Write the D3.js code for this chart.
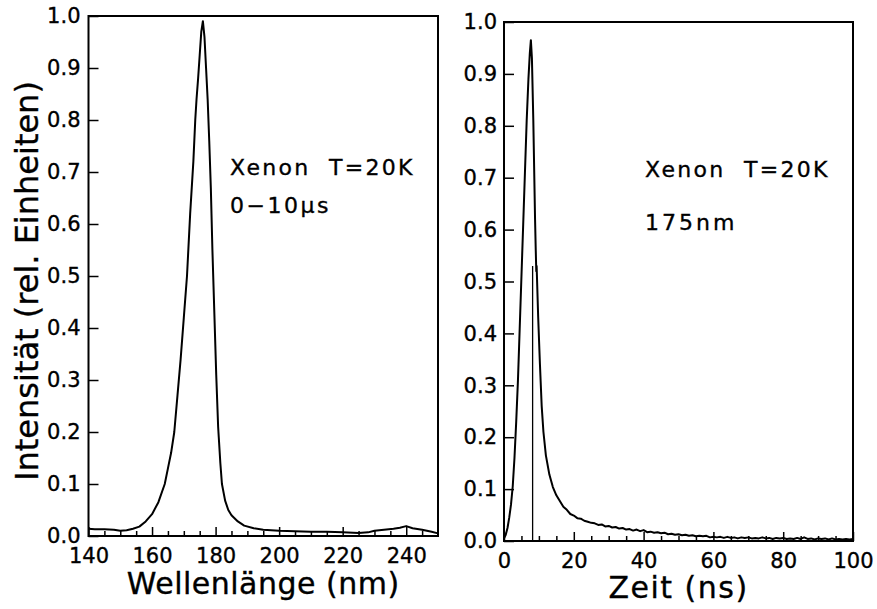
<!DOCTYPE html>
<html>
<head>
<meta charset="utf-8">
<script src="https://cdn.jsdelivr.net/npm/d3@7"></script>
<style>
  html, body { margin: 0; padding: 0; background: #fff; }
  svg { display: block; }
  text { font-family: "DejaVu Sans", "Liberation Sans", sans-serif; fill: #000; stroke: #000; stroke-width: 0.35px; }
</style>
</head>
<body>
<svg id="chart" width="877" height="609"></svg>
<script>
// Emission spectrum of solid xenon at 20 K (integrated 0–10 µs)
const wavelengthNm = [140,142,145,148,150,152,154,156,158,160,162,164,165,166,167,168,169,170,171,172,173,173.6,174,174.5,175,175.5,176,176.5,177,177.5,178,178.5,179,179.6,180.2,180.8,181,181.5,182,183,184,185,187,189,192,195,200,205,210,215,220,225,228,230,233,236,238,240,242,245,248,250];
const spectrumIntensity = [0.014,0.013,0.013,0.012,0.010,0.011,0.014,0.018,0.028,0.042,0.065,0.100,0.130,0.160,0.200,0.270,0.340,0.420,0.500,0.620,0.720,0.800,0.840,0.880,0.925,0.970,0.990,0.960,0.900,0.840,0.760,0.670,0.550,0.430,0.310,0.210,0.190,0.140,0.100,0.068,0.050,0.040,0.028,0.020,0.015,0.012,0.010,0.009,0.008,0.008,0.007,0.006,0.007,0.010,0.012,0.014,0.016,0.019,0.015,0.012,0.008,0.005];

// Time profile of the 175 nm emission
const timeNs = [0,0.5,1,1.5,2,2.5,3,3.5,4,4.5,5,5.5,6,6.5,7,7.4,7.7,8.0,8.4,8.9,9.1,9.25,9.35,9.8,10.3,10.8,11.3,12,
  13,14,15,16,17,18,19,20,21,22,23,24,25,26,27,28,29,30,31,32,33,34,35,36,37,38,39,40,
  41,42,43,44,45,46,47,48,49,50,51,52,53,54,55,56,57,58,59,60,61,62,63,64,65,66,67,68,69,70,
  71,72,73,74,75,76,77,78,79,80,81,82,83,84,85,86,87,88,89,90,91,92,93,94,95,96,97,98,99,100];
const decayIntensity = [0.005,0.012,0.025,0.045,0.070,0.105,0.160,0.230,0.310,0.410,0.510,0.610,0.710,0.810,0.890,0.940,0.965,0.930,0.810,0.620,0.560,0.520,0.530,0.430,0.340,0.260,0.210,0.165,
  0.128,0.104,0.088,0.077,0.066,0.060,0.052,0.049,0.044,0.043,0.039,0.037,0.035,0.034,0.031,0.032,0.028,0.029,0.026,0.027,0.024,0.025,0.022,0.023,0.020,0.022,0.019,0.021,
  0.017,0.018,0.016,0.017,0.015,0.016,0.013,0.014,0.012,0.013,0.011,0.012,0.010,0.011,0.009,0.010,0.009,0.010,0.007,0.008,0.007,0.008,0.006,0.008,0.006,0.007,0.005,0.007,0.006,0.007,
  0.005,0.006,0.005,0.007,0.005,0.006,0.004,0.006,0.005,0.006,0.004,0.005,0.004,0.006,0.004,0.007,0.004,0.005,0.003,0.005,0.004,0.005,0.003,0.005,0.003,0.004,0.003,0.004,0.003,0.004];
const markerTime = 8.2;
const markerLevel = 0.53;

// Axis ticks
const yTicks = [0,0.1,0.2,0.3,0.4,0.5,0.6,0.7,0.8,0.9,1.0];
const wlMajor = [140,160,180,200,220,240];
const wlMinor = d3.range(145, 250, 5).filter(v => !wlMajor.includes(v));
const tMajor = [0,20,40,60,80,100];
const tMinor = d3.range(5, 100, 5).filter(v => !tMajor.includes(v));

const svg = d3.select("#chart");

function panel(opts) {
  const x = d3.scaleLinear().domain(opts.xDomain).range(opts.xRange);
  const y = d3.scaleLinear().domain([0, 1]).range(opts.yRange);
  const g = svg.append("g");

  // minor x ticks
  g.append("g")
    .attr("transform", `translate(0,${opts.yRange[0]})`)
    .call(d3.axisBottom(x).tickValues(opts.minor).tickSize(-5).tickFormat(""))
    .call(a => a.select(".domain").remove())
    .call(a => a.selectAll("line").attr("stroke-width", 1.5));

  // major x ticks + labels
  g.append("g")
    .attr("transform", `translate(0,${opts.yRange[0]})`)
    .call(d3.axisBottom(x).tickValues(opts.major).tickSize(-9).tickPadding(opts.xLabelPad).tickFormat(d3.format("d")))
    .call(a => a.select(".domain").remove())
    .call(a => a.selectAll("line").attr("stroke-width", 1.5))
    .call(a => a.selectAll("text").attr("font-size", 21).attr("font-family", "DejaVu Sans").attr("fill", "#000"));

  // y ticks + labels
  g.append("g")
    .attr("transform", `translate(${opts.xRange[0]},0)`)
    .call(d3.axisLeft(y).tickValues(yTicks).tickSize(-10).tickPadding(opts.yLabelPad).tickFormat(d3.format(".1f")))
    .call(a => a.select(".domain").remove())
    .call(a => a.selectAll("line").attr("stroke-width", 1.5))
    .call(a => a.selectAll("text").attr("font-size", 21).attr("font-family", "DejaVu Sans").attr("fill", "#000"));

  // frame
  g.append("rect")
    .attr("x", opts.xRange[0]).attr("y", opts.yRange[1])
    .attr("width", opts.xRange[1] - opts.xRange[0])
    .attr("height", opts.yRange[0] - opts.yRange[1])
    .attr("fill", "none").attr("stroke", "#000").attr("stroke-width", 2);

  // curve
  const pts = opts.xs.map((v, i) => [v, opts.ys[i]]);
  g.append("path")
    .datum(pts)
    .attr("fill", "none").attr("stroke", "#000").attr("stroke-width", 2)
    .attr("stroke-linejoin", "round")
    .attr("d", d3.line().x(d => x(d[0])).y(d => y(d[1])));

  // x axis title
  g.append("text")
    .attr("x", (opts.xRange[0] + opts.xRange[1]) / 2)
    .attr("y", opts.titleY)
    .attr("text-anchor", "middle")
    .attr("font-size", 30)
    .attr("letter-spacing", opts.titleSpacing)
    .text(opts.xTitle);

  // annotations
  opts.notes.forEach(n => {
    g.append("text")
      .attr("x", n.x).attr("y", n.y)
      .attr("font-size", 22)
      .attr("letter-spacing", n.ls)
      .attr("xml:space", "preserve")
      .text(n.text);
  });

  return { g, x, y };
}

const left = panel({
  xDomain: [140, 250], xRange: [88.5, 438], yRange: [536, 16],
  xs: wavelengthNm, ys: spectrumIntensity,
  major: wlMajor, minor: wlMinor, xLabelPad: 12, yLabelPad: 8,
  xTitle: "Wellenlänge (nm)", titleY: 594, titleSpacing: 0.5,
  notes: [
    { x: 230, y: 175, text: "Xenon  T=20K", ls: 2.3 },
    { x: 230, y: 213, text: "0\u221210\u03bcs", ls: 2.5 }
  ]
});

const right = panel({
  xDomain: [0, 100], xRange: [504, 853], yRange: [541, 22],
  xs: timeNs, ys: decayIntensity,
  major: tMajor, minor: tMinor, xLabelPad: 12, yLabelPad: 7,
  xTitle: "Zeit (ns)", titleY: 598, titleSpacing: 1.5,
  notes: [
    { x: 645, y: 177, text: "Xenon  T=20K", ls: 2.3 },
    { x: 645, y: 230, text: "175nm", ls: 3 }
  ]
});

// vertical marker at the peak position of the time profile
right.g.append("line")
  .attr("x1", right.x(markerTime)).attr("x2", right.x(markerTime))
  .attr("y1", right.y(0)).attr("y2", right.y(markerLevel))
  .attr("stroke", "#000").attr("stroke-width", 1.3);

// shared y axis title
svg.append("text")
  .attr("transform", "translate(38,281) rotate(-90)")
  .attr("text-anchor", "middle")
  .attr("font-size", 32)
  .text("Intensität (rel. Einheiten)");
</script>
</body>
</html>
